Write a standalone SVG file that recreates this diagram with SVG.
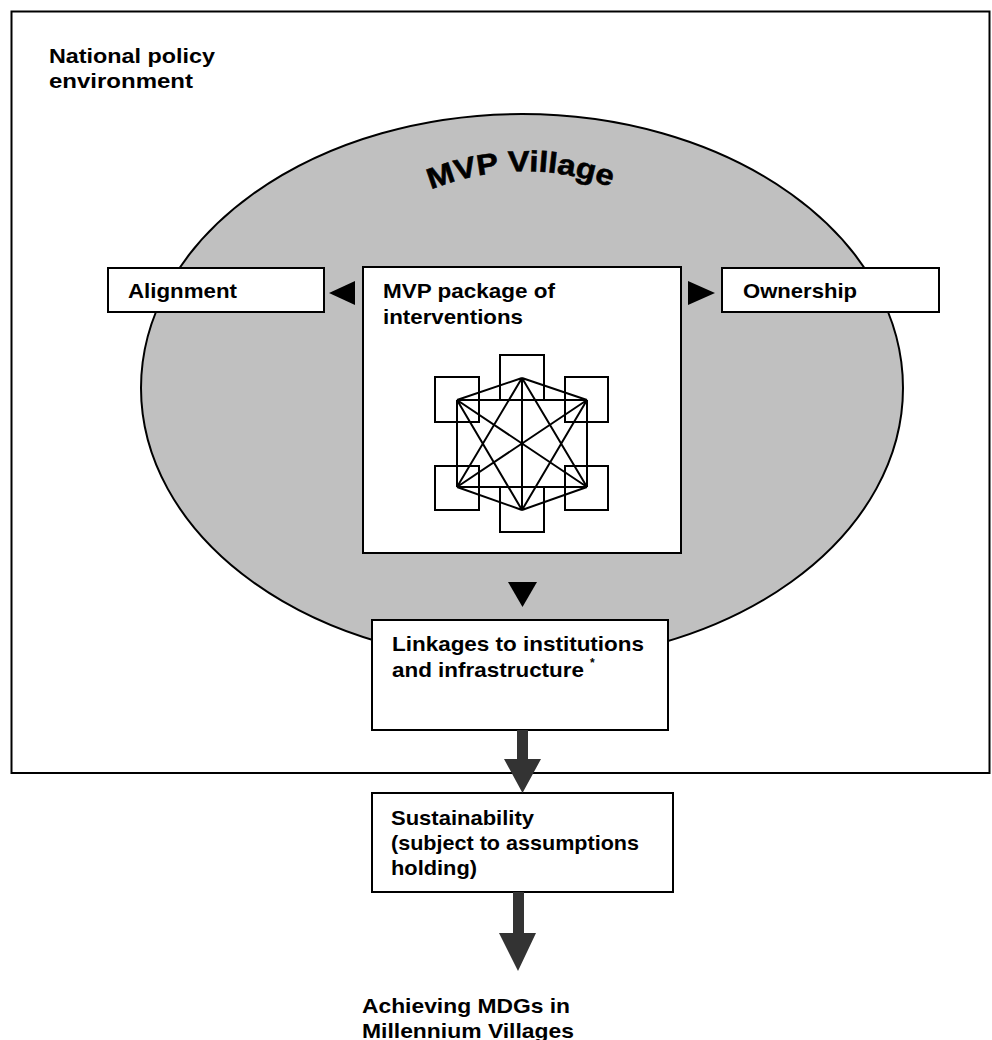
<svg xmlns="http://www.w3.org/2000/svg" width="992" height="1040" viewBox="0 0 992 1040">
<style>
.t{font-family:"Liberation Sans",Arial,sans-serif;font-weight:bold;font-size:20.5px;fill:#000}
.box{fill:#fff;stroke:#000;stroke-width:2}
.sq{fill:#fff;stroke:#000;stroke-width:2}
.ln{stroke:#000;stroke-width:2;fill:none}
.tri{fill:#000}
.big{fill:#333}
</style>
<defs>
<path id="arc" d="M 418,195 Q 520,149 624,192"/>
</defs>
<rect width="992" height="1040" fill="#fff"/>
<g id="national-policy">
<rect x="11.5" y="11.5" width="978" height="761.5" fill="none" stroke="#000" stroke-width="2"/>
<text class="t"><tspan x="49" y="63" textLength="166" lengthAdjust="spacingAndGlyphs">National policy</tspan><tspan x="49" y="88" textLength="144" lengthAdjust="spacingAndGlyphs">environment</tspan></text>
</g>
<g id="mvp-village">
<ellipse cx="522" cy="388" rx="381" ry="274" fill="#c0c0c0" stroke="#000" stroke-width="2"/>
<text class="t" style="font-size:29px;stroke:#000;stroke-width:0.6"><textPath href="#arc" startOffset="50%" text-anchor="middle" textLength="184" lengthAdjust="spacingAndGlyphs">MVP Village</textPath></text>
</g>
<g id="alignment">
<rect class="box" x="108" y="268" width="216" height="44"/>
<text class="t" x="128" y="298" textLength="109" lengthAdjust="spacingAndGlyphs">Alignment</text>
</g>
<g id="ownership">
<rect class="box" x="722" y="268" width="217" height="44"/>
<text class="t" x="743" y="298" textLength="114" lengthAdjust="spacingAndGlyphs">Ownership</text>
</g>
<g id="mvp-package">
<rect class="box" x="363" y="267" width="318" height="286"/>
<text class="t"><tspan x="383" y="298" textLength="172" lengthAdjust="spacingAndGlyphs">MVP package of</tspan><tspan x="383" y="324" textLength="140" lengthAdjust="spacingAndGlyphs">interventions</tspan></text>
<g id="interventions-network">
<rect class="sq" x="500" y="355" width="44" height="45"/>
<rect class="sq" x="435" y="377" width="44" height="45"/>
<rect class="sq" x="565" y="377" width="43" height="45"/>
<rect class="sq" x="435" y="466" width="44" height="44"/>
<rect class="sq" x="565" y="466" width="43" height="44"/>
<rect class="sq" x="500" y="487" width="44" height="45"/>
<path class="ln" d="M522,378 L457,400 M522,378 L587,400 M522,378 L457,487 M522,378 L587,487 M522,378 L522,510 M457,400 L587,400 M457,400 L457,487 M457,400 L587,487 M457,400 L522,510 M587,400 L457,487 M587,400 L587,487 M587,400 L522,510 M457,487 L587,487 M457,487 L522,510 M587,487 L522,510"/>
</g>
</g>
<g id="linkages">
<rect class="box" x="372" y="620" width="296" height="110"/>
<text class="t"><tspan x="392" y="651" textLength="252" lengthAdjust="spacingAndGlyphs">Linkages to institutions</tspan><tspan x="392" y="677" textLength="192" lengthAdjust="spacingAndGlyphs">and infrastructure</tspan></text>
<text class="t" x="590" y="667" style="font-size:12px">*</text>
</g>
<g id="sustainability">
<rect class="box" x="372" y="793" width="301" height="99"/>
<text class="t"><tspan x="391" y="825" textLength="143" lengthAdjust="spacingAndGlyphs">Sustainability</tspan><tspan x="391" y="850" textLength="248" lengthAdjust="spacingAndGlyphs">(subject to assumptions</tspan><tspan x="391" y="875" textLength="86" lengthAdjust="spacingAndGlyphs">holding)</tspan></text>
</g>
<g id="achieving-mdgs">
<text class="t"><tspan x="362" y="1013" textLength="208" lengthAdjust="spacingAndGlyphs">Achieving MDGs in</tspan><tspan x="362" y="1038" textLength="212" lengthAdjust="spacingAndGlyphs">Millennium Villages</tspan></text>
</g>
<g id="connectors">
<polygon class="tri" points="329,293 355,281 355,305"/>
<polygon class="tri" points="688,281 688,305 715,293"/>
<polygon class="tri" points="508,582 537,582 522.5,607"/>
<polygon class="big" points="517,730 528,730 528,759 541,759 522.5,793 504,759 517,759"/>
<polygon class="big" points="513,892 524,892 524,933 536,933 518,971 499,933 513,933"/>
</g>
</svg>
